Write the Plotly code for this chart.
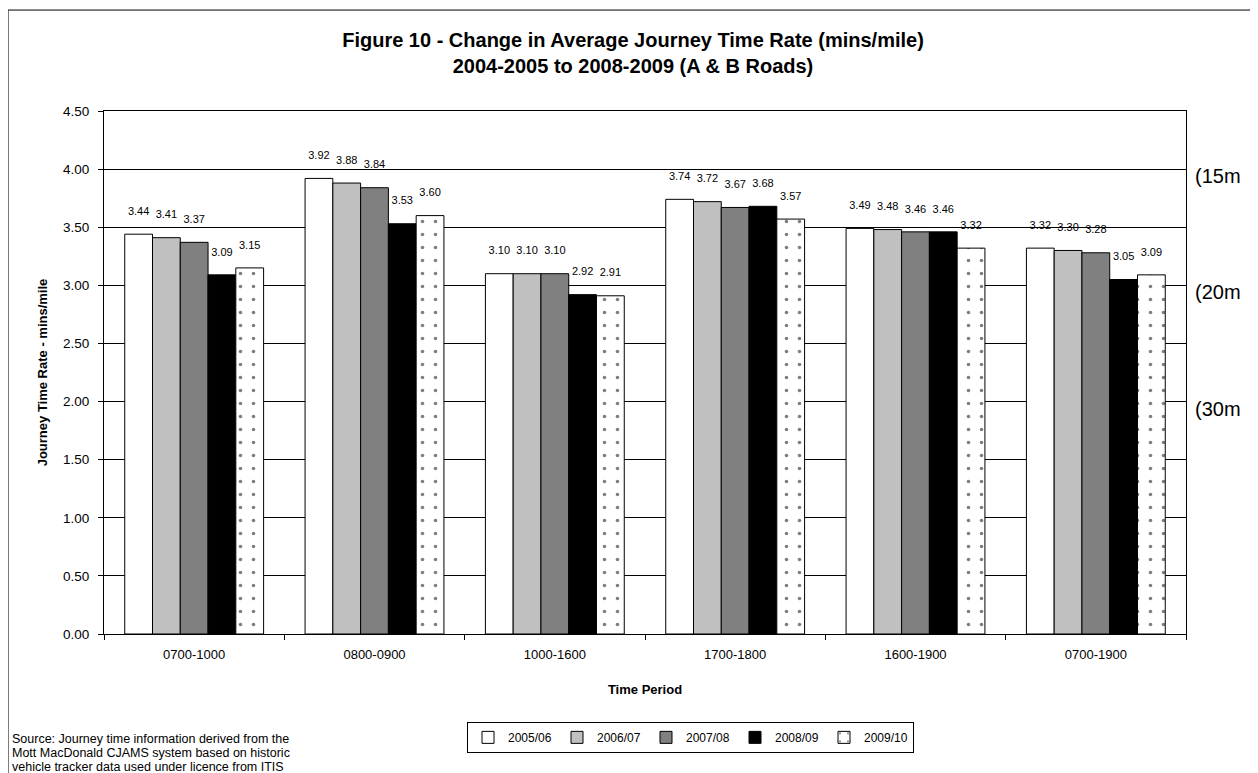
import plotly.graph_objects as go

categories = ["0700-1000", "0800-0900", "1000-1600", "1700-1800", "1600-1900", "0700-1900"]
series_names = ["2005/06", "2006/07", "2007/08", "2008/09", "2009/10"]
v2005 = [3.44, 3.92, 3.10, 3.74, 3.49, 3.32]
v2006 = [3.41, 3.88, 3.10, 3.72, 3.48, 3.30]
v2007 = [3.37, 3.84, 3.10, 3.67, 3.46, 3.28]
v2008 = [3.09, 3.53, 2.92, 3.68, 3.46, 3.05]
v2009 = [3.15, 3.60, 2.91, 3.57, 3.32, 3.09]
speed_labels = ["(15m", "(20m", "(30m"]
speed_levels = [4.0, 3.0, 2.0]
source_lines = ["Source: Journey time information derived from the",
                "Mott MacDonald CJAMS system based on historic",
                "vehicle tracker data used under licence from ITIS"]

fills = ["#FFFFFF", "#C0C0C0", "#808080", "#000000", "#FFFFFF"]
values = [v2005, v2006, v2007, v2008, v2009]

FONT = "Liberation Sans, Arial, sans-serif"

fig = go.Figure()
for i, (name, vals) in enumerate(zip(series_names, values)):
    pattern = dict(shape="")
    if i == 4:
        pattern = dict(shape=".", fgcolor="#000000", bgcolor="#FFFFFF",
                       size=13, solidity=0.06)
    fig.add_trace(go.Bar(
        x=categories, y=vals, name=name,
        marker=dict(color=fills[i], line=dict(color="#000000", width=1),
                    pattern=pattern),
        text=[f"{v:.2f}" for v in vals],
        texttemplate="%{text}<br> ",
        textposition="outside",
        textfont=dict(family=FONT, size=11, color="#000000"),
        constraintext="none",
        cliponaxis=False,
    ))

# speed reference labels on the right
for lab, lev in zip(speed_labels, speed_levels):
    fig.add_annotation(x=1.0, y=lev, xref="paper", yref="y", text=lab,
                       showarrow=False, xanchor="left", yanchor="middle",
                       xshift=7, yshift=-7,
                       font=dict(family=FONT, size=20, color="#000000"))

# source note, one line each so the spacing stays tight
for k, line in enumerate(source_lines):
    fig.add_annotation(x=-0.087, y=-0.2008 - 0.0267 * k, xref="paper", yref="paper",
                       text=line, showarrow=False, xanchor="left", yanchor="middle",
                       font=dict(family=FONT, size=12.5, color="#000000"))

# outer chart frame
fig.add_shape(type="rect", xref="paper", yref="paper",
              x0=-0.0887, x1=1.0647, y0=-0.30, y1=1.193,
              line=dict(color="#000000", width=1), layer="below")

fig.update_layout(
    width=1250, height=765,
    margin=dict(l=96, r=72, t=103, b=139),
    paper_bgcolor="#FFFFFF", plot_bgcolor="#FFFFFF",
    font=dict(family=FONT, size=12, color="#000000"),
    title=dict(text="<b>Figure 10 - Change in Average Journey Time Rate (mins/mile)<br>"
                    "2004-2005 to 2008-2009 (A & B Roads)</b>",
               x=0.5, xref="container", y=0.949, yanchor="top",
               font=dict(family=FONT, size=20, color="#000000")),
    barmode="group", bargap=0.23, bargroupgap=0,
    legend=dict(orientation="h", x=0.3355, y=-0.168, xanchor="left", yanchor="top",
                bordercolor="#000000", borderwidth=1, bgcolor="#FFFFFF",
                font=dict(family=FONT, size=12), itemwidth=30,
                entrywidth=44, entrywidthmode="pixels",
                traceorder="normal", tracegroupgap=0),
    showlegend=True,
)
fig.update_xaxes(
    title=dict(text="<b>Time Period</b>", font=dict(family=FONT, size=13), standoff=24),
    showline=True, linecolor="#000000", linewidth=1, mirror=True,
    ticks="outside", ticklen=5, tickcolor="#000000", tickson="boundaries",
    ticklabelstandoff=8,
    tickfont=dict(family=FONT, size=13),
)
fig.update_yaxes(
    title=dict(text="<b>Journey Time Rate - mins/mile</b>", font=dict(family=FONT, size=13),
               standoff=12),
    range=[0, 4.5], dtick=0.5, tickformat=".2f",
    showline=True, linecolor="#000000", linewidth=1, mirror=True,
    showgrid=True, gridcolor="#000000", gridwidth=1,
    ticks="outside", ticklen=5, tickcolor="#000000",
    ticklabelstandoff=6,
    tickfont=dict(family=FONT, size=13.5), zeroline=False,
)

fig.write_html("out.html")
